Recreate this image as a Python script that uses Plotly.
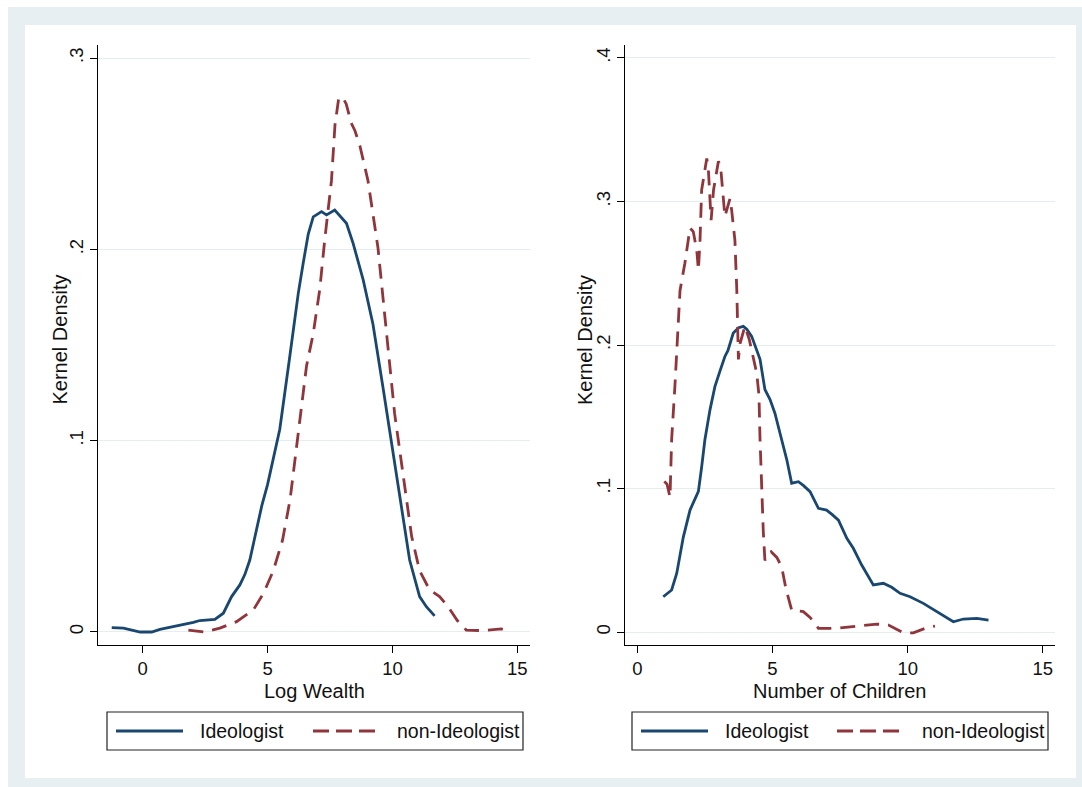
import plotly.graph_objects as go

# ---------------- data ----------------
wealth_ideo_x = [-1.24, -0.77, -0.1, 0.36, 0.69, 1.23, 1.63, 2.03, 2.29, 2.89, 3.23, 3.56, 3.89, 4.09,
                 4.29, 4.5, 4.77, 5.0, 5.16, 5.49, 5.89, 6.23, 6.43, 6.63, 6.83, 7.16, 7.36, 7.69, 8.16,
                 8.43, 8.83, 9.22, 9.62, 10.16, 10.69, 11.09, 11.36, 11.69]
wealth_ideo_y = [0.0023, 0.002, 0.0, 0.0, 0.0014, 0.0028, 0.004, 0.005, 0.006, 0.0066, 0.0098, 0.0185,
                 0.0246, 0.03, 0.0376, 0.05, 0.066, 0.077, 0.086, 0.106, 0.144, 0.177, 0.193, 0.208, 0.217,
                 0.2197, 0.218, 0.2205, 0.2136, 0.203, 0.184, 0.161, 0.128, 0.083, 0.0376, 0.0185,
                 0.0132, 0.0084]

wealth_non_x = [1.83, 2.49, 3.09, 3.76, 4.43, 4.83, 5.23, 5.6, 5.9, 6.03, 6.56, 6.83, 7.09, 7.29, 7.56,
                7.7, 7.85, 8.0, 8.15, 8.35, 8.5, 8.7, 9.02, 9.42, 9.76, 10.09, 10.42, 10.77, 11.09,
                11.49, 11.89, 12.23, 12.6, 12.96, 13.63, 14.36, 14.63]
wealth_non_y = [0.001, 0.0, 0.002, 0.0054, 0.0115, 0.02, 0.032, 0.048, 0.069, 0.083, 0.139, 0.156,
                0.179, 0.205, 0.236, 0.265, 0.279, 0.2796, 0.276, 0.266, 0.262, 0.254, 0.236, 0.201,
                0.158, 0.114, 0.083, 0.05, 0.032, 0.022, 0.0185, 0.0132, 0.006, 0.001, 0.0007,
                0.0016, 0.0007]

kids_ideo_x = [0.96, 1.27, 1.46, 1.7, 1.95, 2.26, 2.38, 2.5, 2.69, 2.87, 3.06, 3.24, 3.35, 3.55, 3.75,
               3.92, 4.05, 4.23, 4.54, 4.72, 4.91, 5.09, 5.34, 5.53, 5.71, 5.96, 6.15, 6.39, 6.7, 7.0,
               7.2, 7.44, 7.75, 7.99, 8.3, 8.73, 9.1, 9.41, 9.72, 10.09, 10.58, 11.08, 11.69, 12.06,
               12.56, 12.99]
kids_ideo_y = [0.0246, 0.0293, 0.041, 0.066, 0.085, 0.098, 0.115, 0.134, 0.155, 0.171, 0.182, 0.192,
               0.196, 0.2083, 0.212, 0.213, 0.211, 0.206, 0.19, 0.169, 0.162, 0.1525, 0.134, 0.12,
               0.1037, 0.1048, 0.102, 0.0978, 0.0862, 0.085, 0.082, 0.078, 0.0653, 0.0584, 0.0467,
               0.0328, 0.034, 0.0312, 0.027, 0.0246, 0.02, 0.0142, 0.0072, 0.0091, 0.0095, 0.0084]

kids_non_x = [1.0, 1.1, 1.21, 1.27, 1.39, 1.58, 1.76, 1.95, 2.07, 2.2, 2.26, 2.32, 2.38, 2.57, 2.63,
              2.73, 2.82, 3.0, 3.08, 3.24, 3.43, 3.49, 3.61, 3.68, 3.74, 3.8, 3.98, 4.14, 4.42, 4.5,
              4.54, 4.6, 4.66, 4.72, 4.85, 4.95, 5.16, 5.34, 5.5, 5.71, 6.14, 6.4, 6.7, 7.38, 8.12,
              8.86, 9.29, 9.84, 10.21, 10.71, 11.01]
kids_non_y = [0.105, 0.103, 0.094, 0.134, 0.171, 0.238, 0.257, 0.2815, 0.279, 0.266, 0.252, 0.273,
              0.308, 0.33, 0.322, 0.287, 0.308, 0.328, 0.3245, 0.2896, 0.302, 0.294, 0.273, 0.2385,
              0.19, 0.201, 0.213, 0.204, 0.18, 0.165, 0.134, 0.1, 0.07, 0.05, 0.054, 0.056, 0.052,
              0.0455, 0.03, 0.0153, 0.0142, 0.01, 0.0026, 0.0026, 0.0042, 0.0056, 0.0049, -0.0005,
              -0.0005, 0.003, 0.0042]

x_ticks = [0, 5, 10, 15]
y_ticks_left = [0, 0.1, 0.2, 0.3]
y_ticks_right = [0, 0.1, 0.2, 0.3, 0.4]
y_ticktext_left = ["0", ".1", ".2", ".3"]
y_ticktext_right = ["0", ".1", ".2", ".3", ".4"]
series_names = ["Ideologist", "non-Ideologist"]
x_titles = ["Log Wealth", "Number of Children"]
y_title = "Kernel Density"

# ---------------- style ----------------
W, H = 1082, 787
BLUE = "#1a476f"
RED = "#90353b"
GRID = "#e4eef0"
FRAME = "#e8eff2"
FONT = "Liberation Sans, Arial, Helvetica, sans-serif"
DASH = "15px,9px"
LW = 2.8


def px(x):
    return x / W


def py(y):
    return 1 - y / H


fig = go.Figure()
fig.add_trace(go.Scatter(x=wealth_ideo_x, y=wealth_ideo_y, mode="lines", name=series_names[0],
                         line=dict(color=BLUE, width=LW), xaxis="x", yaxis="y", showlegend=False))
fig.add_trace(go.Scatter(x=wealth_non_x, y=wealth_non_y, mode="lines", name=series_names[1],
                         line=dict(color=RED, width=LW, dash=DASH), xaxis="x", yaxis="y", showlegend=False))
fig.add_trace(go.Scatter(x=kids_ideo_x, y=kids_ideo_y, mode="lines", name=series_names[0],
                         line=dict(color=BLUE, width=LW), xaxis="x2", yaxis="y2", showlegend=False))
fig.add_trace(go.Scatter(x=kids_non_x, y=kids_non_y, mode="lines", name=series_names[1],
                         line=dict(color=RED, width=LW, dash=DASH), xaxis="x2", yaxis="y2", showlegend=False))

ydom = [py(645), py(45)]
common_x = dict(showline=True, linecolor="#000", linewidth=1.2, ticks="outside", ticklen=7,
                tickcolor="#000", tickvals=x_ticks, showgrid=False, zeroline=False,
                tickfont=dict(family=FONT, size=18.5, color="#111"))
common_y = dict(showline=True, linecolor="#000", linewidth=1.2, ticks="outside", ticklen=7,
                tickcolor="#000", showgrid=True, gridcolor=GRID, gridwidth=1.2, zeroline=False,
                tickangle=-90, tickfont=dict(family=FONT, size=18.5, color="#111"))

fig.update_layout(
    width=W, height=H, margin=dict(l=0, r=0, t=0, b=0),
    paper_bgcolor="white", plot_bgcolor="white", showlegend=False,
    xaxis=dict(common_x, domain=[px(98), px(530)], range=[-1.79, 15.51], anchor="y"),
    yaxis=dict(common_y, domain=ydom, range=[-0.0068, 0.3068], anchor="x",
               tickvals=y_ticks_left, ticktext=y_ticktext_left),
    xaxis2=dict(common_x, domain=[px(625), px(1055)], range=[-0.455, 15.45], anchor="y2"),
    yaxis2=dict(common_y, domain=ydom, range=[-0.009, 0.409], anchor="x2",
                tickvals=y_ticks_right, ticktext=y_ticktext_right),
)

shapes = [
    dict(type="rect", xref="paper", yref="paper", x0=px(8), x1=1, y0=0, y1=py(7),
         fillcolor=FRAME, line=dict(width=0), layer="below"),
    dict(type="rect", xref="paper", yref="paper", x0=px(25), x1=px(1076), y0=py(778), y1=py(25),
         fillcolor="white", line=dict(width=0), layer="below"),
]
annotations = []

# axis titles
for cx, title in [((98 + 530) / 2, x_titles[0]), ((625 + 1055) / 2, x_titles[1])]:
    annotations.append(dict(xref="paper", yref="paper", x=px(cx), y=py(691), text=title,
                            showarrow=False, xanchor="center", yanchor="middle",
                            font=dict(family=FONT, size=20, color="#111")))
for cx in [59.5, 585]:
    annotations.append(dict(xref="paper", yref="paper", x=px(cx), y=py(340), text=y_title,
                            textangle=-90, showarrow=False, xanchor="center", yanchor="middle",
                            font=dict(family=FONT, size=20, color="#111")))

# legends (drawn boxes)
for bx0, bx1, l1, t1, l2, t2 in [(107, 523, (116, 183), 198, (313, 375), 395),
                                  (632, 1048, (641, 708), 723, (837, 900), 920)]:
    shapes.append(dict(type="rect", xref="paper", yref="paper", x0=px(bx0), x1=px(bx1),
                       y0=py(750), y1=py(712), line=dict(color="#222", width=1.2),
                       fillcolor="white"))
    shapes.append(dict(type="line", xref="paper", yref="paper", x0=px(l1[0]), x1=px(l1[1]),
                       y0=py(731), y1=py(731), line=dict(color=BLUE, width=LW)))
    shapes.append(dict(type="line", xref="paper", yref="paper", x0=px(l2[0]), x1=px(l2[1]),
                       y0=py(731), y1=py(731), line=dict(color=RED, width=LW, dash="16px,7px")))
    annotations.append(dict(xref="paper", yref="paper", x=px(t1), y=py(731), text=series_names[0],
                            showarrow=False, xanchor="left", yanchor="middle",
                            font=dict(family=FONT, size=19.5, color="#111")))
    annotations.append(dict(xref="paper", yref="paper", x=px(t2), y=py(731), text=series_names[1],
                            showarrow=False, xanchor="left", yanchor="middle",
                            font=dict(family=FONT, size=19.5, color="#111")))

fig.update_layout(shapes=shapes, annotations=annotations)
fig.write_html("out.html")
